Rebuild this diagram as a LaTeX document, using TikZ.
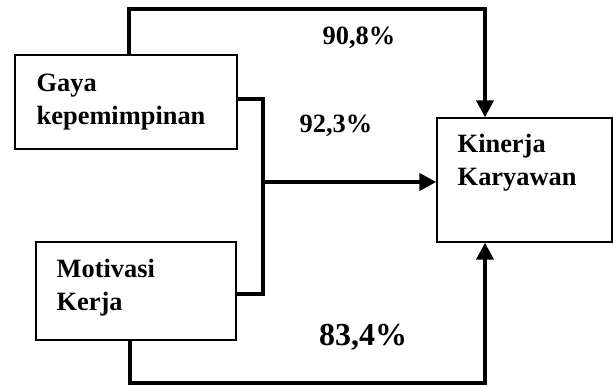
\documentclass[tikz,border=0pt]{standalone}
\usepackage{fontspec}
\setmainfont{Liberation Serif}
\usetikzlibrary{arrows.meta}

\begin{document}
\begin{tikzpicture}[x=0.5pt,y=-0.5pt,
    box/.style={draw, line width=0.7pt, inner sep=0},
    lbl/.style={font=\bfseries\fontsize{13.2}{16.5}\selectfont, align=left, inner sep=0},
    pct/.style={font=\bfseries\fontsize{13.2}{16}\selectfont, inner sep=0},
    link/.style={line width=2pt},
    arr/.style={-{Triangle[width=8.5pt,length=8.5pt]}}]
    \useasboundingbox (0,0) rectangle (613,385);

    % Gaya kepemimpinan
    \node[box,
      minimum width=111pt,
      minimum height=47pt] (gaya) at (126,102) {};
    \node[lbl, anchor=west] (gayatxt) at ([xshift=11pt]gaya.west) {Gaya\\kepemimpinan};

    % Motivasi kerja
    \node[box,
      minimum width=100pt,
      minimum height=49pt] (mot) at (136,291) {};
    \node[lbl, anchor=west] (mottxt) at ([shift={(10.5pt,1.5pt)}]mot.west) {Motivasi\\Kerja};

    % Kinerja karyawan
    \node[box,
      minimum width=87.5pt,
      minimum height=62pt] (kin) at (524.5,180) {};
    \node[lbl, anchor=west] (kintxt) at ([shift={(10.5pt,8.75pt)}]kin.west) {Kinerja\\Karyawan};

    % Draw Arrows
    \coordinate (tr) at (485,9);
    \coordinate (br) at (485,383);
    \coordinate (j) at (263,182);
    \draw[link,arr] ([xshift=1.5pt]gaya.north) |- (tr) -- (tr |- kin.north);
    \draw[link,arr] ([xshift=-3pt]mot.south) |- (br) -- (br |- kin.south);
    \draw[link] ([yshift=1.5pt]gaya.east) -| (j) |- ([yshift=-1.5pt]mot.east);
    \draw[link,arr] (j) -- (j -| kin.west);

    % Text labels
    \node[pct] (p1) at (359,38) {90,8\%};
    \node[pct] (p2) at (336,126) {92,3\%};
    \node[pct, font=\bfseries\fontsize{16}{19}\selectfont] (p3) at (363,337) {83,4\%};

\end{tikzpicture}
\end{document}
